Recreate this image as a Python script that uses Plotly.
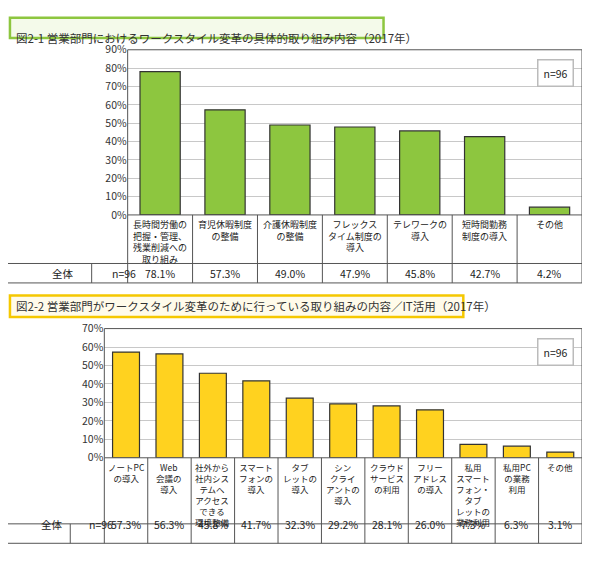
import plotly.graph_objects as go

W, H = 574, 545
RW, RH = 590, 561
FONT = "Noto Sans CJK JP"

cats1 = ["長時間労働の<br>把握・管理、<br>残業削減への<br>取り組み", "育児休暇制度<br>の整備", "介護休暇制度<br>の整備",
         "フレックス<br>タイム制度の<br>導入", "テレワークの<br>導入", "短時間勤務<br>制度の導入", "その他"]
vals1 = [78.1, 57.3, 49.0, 47.9, 45.8, 42.7, 4.2]
cats2 = ["ノートPC<br>の導入", "Web<br>会議の<br>導入", "社外から<br>社内シス<br>テムへ<br>アクセス<br>できる<br>環境整備",
         "スマート<br>フォンの<br>導入", "タブ<br>レットの<br>導入", "シン<br>クライ<br>アントの<br>導入",
         "クラウド<br>サービス<br>の利用", "フリー<br>アドレス<br>の導入",
         "私用<br>スマート<br>フォン・<br>タブ<br>レットの<br>業務利用", "私用PC<br>の業務<br>利用", "その他"]
vals2 = [57.3, 56.3, 45.8, 41.7, 32.3, 29.2, 28.1, 26.0, 7.3, 6.3, 3.1]
title1 = "図2-1 営業部門におけるワークスタイル変革の具体的取り組み内容（2017年）"
title2 = "図2-2 営業部門がワークスタイル変革のために行っている取り組みの内容／IT活用（2017年）"

def px(x): return x / RW
def py(y): return 1 - y / RH

fig = go.Figure()
shapes, anns = [], []

def panel(idx, cats, vals, color, ymax, x0, ytop, ybot, ylab, ytab, xc1, title, tcolor, tbg, tbox, lsize):
    xa = "x" if idx == 1 else "x2"
    ya = "y" if idx == 1 else "y2"
    fig.add_trace(go.Bar(x=list(range(len(cats))), y=vals, marker=dict(color=color, line=dict(color="#333", width=1.2)),
                         width=0.62, xaxis=xa, yaxis=ya, showlegend=False, hoverinfo="skip"))
    n = len(cats)
    key = "" if idx == 1 else "2"
    fig.update_layout(**{
        "xaxis" + key: dict(domain=[px(x0), 1], range=[-0.5, n - 0.5], showticklabels=False, showgrid=False,
                            zeroline=False, anchor=ya, fixedrange=True, automargin=False),
        "yaxis" + key: dict(domain=[py(ybot), py(ytop)], range=[0, ymax], dtick=10, ticksuffix="%",
                            gridcolor="#c8c8c8", zeroline=False, anchor=xa, ticks="", showline=False, automargin=False,
                            tickfont=dict(size=10.5, color="#333", family=FONT), fixedrange=True),
    })
    lc = dict(color="#555", width=1)
    shapes.append(dict(type="rect", xref="paper", yref="paper", x0=px(x0), x1=1, y0=py(ybot), y1=py(ytop), line=lc))
    shapes.append(dict(type="line", xref="paper", yref="paper", x0=0, x1=1, y0=py(ylab), y1=py(ylab), line=lc))
    shapes.append(dict(type="line", xref="paper", yref="paper", x0=0, x1=1, y0=py(ytab), y1=py(ytab), line=lc))
    shapes.append(dict(type="line", xref="paper", yref="paper", x0=px(xc1), x1=px(xc1), y0=py(ylab), y1=py(ytab), line=lc))
    cw = (RW - x0) / n
    for i in range(n + 1):
        xx = x0 + i * cw
        shapes.append(dict(type="line", xref="paper", yref="paper", x0=px(xx), x1=px(xx), y0=py(ybot), y1=py(ytab), line=lc))
    for i, (c, v) in enumerate(zip(cats, vals)):
        anns.append(dict(x=i, xref=xa, y=py(ybot + 1), yref="paper", text=c, showarrow=False, yanchor="top",
                         font=dict(size=lsize, color="#222", family=FONT)))
        anns.append(dict(x=i, xref=xa, y=py((ylab + ytab) / 2), yref="paper", text=f"{v:.1f}%", showarrow=False,
                         font=dict(size=10.5, color="#222", family=FONT)))
    anns.append(dict(x=px(xc1 / 2), y=py((ylab + ytab) / 2), xref="paper", yref="paper", text="全体", showarrow=False,
                     font=dict(size=10.5, color="#222", family=FONT)))
    anns.append(dict(x=px((xc1 + x0) / 2), y=py((ylab + ytab) / 2), xref="paper", yref="paper", text="n=96",
                     showarrow=False, font=dict(size=10.5, color="#222", family=FONT)))
    anns.append(dict(x=px(RW - 8), y=py(ytop + 10), xref="paper", yref="paper", text="n=96", showarrow=False,
                     xanchor="right", yanchor="top", bordercolor="#bbb", borderwidth=1.5, borderpad=5, bgcolor="white",
                     font=dict(size=10.5, color="#222", family=FONT)))
    tx0, ty0, tx1, ty1 = tbox
    shapes.append(dict(type="rect", xref="paper", yref="paper", x0=px(tx0), x1=px(tx1), y0=py(ty1), y1=py(ty0),
                       line=dict(color=tcolor, width=2.5), fillcolor=tbg, layer="below"))
    anns.append(dict(x=px(tx0 + 4), y=py((ty0 + ty1) / 2), xref="paper", yref="paper", text=title, showarrow=False,
                     xanchor="left", font=dict(size=11.5, color="#333", family=FONT)))

panel(1, cats1, vals1, "#8DC63F", 90, 123, 43, 213, 263, 283, 86, title1, "#8DC63F", "#F4FAEA", (2, 10, 386, 31), 9)
panel(2, cats2, vals2, "#FFD21F", 70, 99, 330, 463, 531, 551, 64, title2, "#F5C800", "#FFFBEA", (2, 296, 468, 318), 8.5)

fig.update_layout(width=W, height=H, margin=dict(l=0, r=0, t=0, b=0, autoexpand=False), plot_bgcolor="white",
                  paper_bgcolor="white", shapes=shapes, annotations=anns, bargap=0.3, font=dict(family=FONT))
fig.write_html("out.html")
